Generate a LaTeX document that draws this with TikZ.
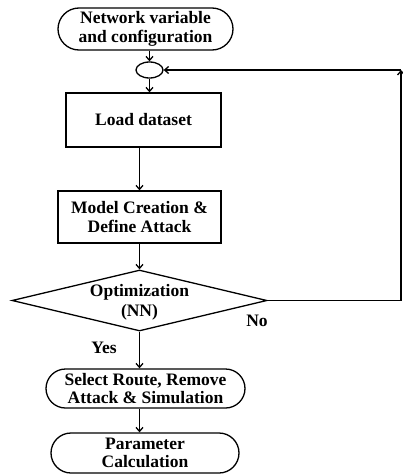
\documentclass[tikz,border=0pt]{standalone}
\usepackage{fontspec}
\setmainfont{Liberation Serif}
\usetikzlibrary{shapes.geometric,shapes.misc,arrows.meta}
\begin{document}
\begin{tikzpicture}[x=1pt,y=1pt,
  every node/.style={font=\bfseries\fontsize{17.5}{18.5}\selectfont, align=center},
  term/.style={draw, line width=1.3pt, rounded rectangle, inner sep=0pt},
  proc/.style={draw, line width=1.3pt, rectangle, inner sep=0pt},
  flow/.style={line width=1.3pt, -{Straight Barb[length=4pt,width=7pt,line width=1.3pt]}},
  lbl/.style={inner sep=0pt}]
\useasboundingbox (0,0) rectangle (403,-474);
\node[term, minimum width=175pt, minimum height=42pt] (top) at (145.5,-29) {Network variable\\and configuration};
\node[draw, ellipse, line width=1.3pt, minimum width=27pt, minimum height=16pt, inner sep=0pt] (join) at (149.5,-70) {};
\node[proc, minimum width=155pt, minimum height=54pt] (load) at (143.5,-120) {Load dataset};
\node[proc, minimum width=163pt, minimum height=52pt] (model) at (139.5,-217) {Model Creation \&\\Define Attack};
\node[draw, diamond, line width=1.3pt, shape aspect=4.18, inner sep=0pt, minimum width=255pt, minimum height=61pt] (opt) at (139.5,-300.5) {};
\node[lbl, font=\bfseries\fontsize{17.5}{20}\selectfont] (optt) at (139.5,-302) {Optimization\\(NN)};
\node[term, minimum width=199pt, minimum height=39pt] (sel) at (145.5,-388.5) {Select Route, Remove\\Attack \& Simulation};
\node[term, minimum width=188pt, minimum height=40pt] (par) at (145,-453) {Parameter\\Calculation};
\node[lbl] (no) at (257,-321) {No};
\node[lbl] (yes) at (104,-348) {Yes};
\coordinate (corner) at (401,-70);
\draw[flow] (join.north |- top.south) -- (join.north);
\draw[flow] (join.south) -- (join.south |- load.north);
\draw[flow] (model.north |- load.south) -- (model.north);
\draw[flow] (model.south) -- (opt.north);
\draw[flow] (opt.south) -- (opt.south |- sel.north);
\draw[flow] (opt.south |- sel.south) -- (opt.south |- par.north);
\draw[flow] (opt.east) -| (corner);
\draw[flow] (corner) -- (join.east);
\end{tikzpicture}
\end{document}
